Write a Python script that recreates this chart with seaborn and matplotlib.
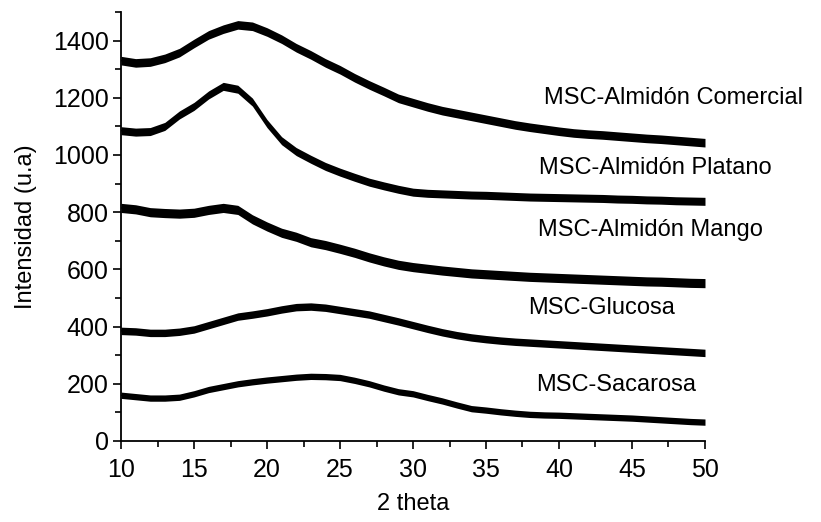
import numpy as np
import pandas as pd
import matplotlib
matplotlib.use("Agg")
import matplotlib.pyplot as plt
import seaborn as sns
from matplotlib.ticker import MultipleLocator

# 2-theta positions (degrees)
two_theta = list(range(10, 51))

comercial = [1330, 1322, 1325, 1338, 1358, 1390, 1420, 1440, 1455, 1450,
             1430, 1405, 1375, 1350, 1322, 1298, 1270, 1245, 1222, 1198,
             1183, 1168, 1155, 1145, 1135, 1125, 1115, 1105, 1097, 1090,
             1083, 1077, 1073, 1070, 1066, 1062, 1058, 1055, 1051, 1047, 1043]
platano = [1085, 1080, 1082, 1100, 1140, 1170, 1210, 1240, 1230, 1185,
           1110, 1050, 1012, 985, 960, 940, 922, 905, 892, 880,
           870, 866, 864, 862, 860, 859, 857, 855, 853, 852,
           851, 850, 849, 848, 846, 845, 843, 842, 840, 839, 838]
mango = [815, 810, 800, 797, 795, 798, 808, 815, 808, 775,
         750, 728, 714, 695, 685, 672, 658, 642, 628, 616,
         608, 602, 596, 591, 586, 583, 580, 577, 574, 572,
         570, 568, 566, 564, 562, 560, 558, 557, 555, 553, 552]
glucosa = [385, 383, 378, 378, 382, 390, 405, 420, 435, 442,
           450, 460, 468, 470, 466, 458, 450, 442, 430, 418,
           405, 392, 380, 370, 362, 356, 351, 347, 344, 341,
           338, 335, 332, 329, 326, 323, 320, 317, 314, 311, 308]
sacarosa = [160, 155, 150, 150, 153, 165, 180, 190, 200, 207,
            213, 218, 223, 226, 225, 222, 212, 200, 185, 172,
            165, 152, 140, 126, 113, 108, 102, 97, 93, 91,
            90, 88, 86, 84, 82, 80, 77, 74, 71, 68, 66]

series_names = ["MSC-Almidón Comercial", "MSC-Almidón Platano",
                "MSC-Almidón Mango", "MSC-Glucosa", "MSC-Sacarosa"]
series_values = [comercial, platano, mango, glucosa, sacarosa]
# approximate half-width of the noise band
noise_halfwidth = [15, 14, 16, 13, 11]

label_x = [39.0, 38.6, 38.55, 37.9, 38.4]
label_y = [1200, 955, 738, 465, 196]

sns.set_theme(style="ticks")
plt.rcParams['font.family'] = ['Liberation Sans', 'DejaVu Sans']

fig = plt.figure(figsize=(8.21, 5.22), dpi=100)
ax = fig.add_axes([0.1474, 0.1552, 0.7113, 0.8218])

rows = []
for name, vals in zip(series_names, series_values):
    for t, v in zip(two_theta, vals):
        rows.append({"two_theta": t, "intensity": v, "sample": name})
df = pd.DataFrame(rows)

for name, hw in zip(series_names, noise_halfwidth):
    sub = df[df["sample"] == name]
    ax.fill_between(sub["two_theta"], sub["intensity"] - hw, sub["intensity"] + hw,
                    color="black", linewidth=0)
    sns.lineplot(data=sub, x="two_theta", y="intensity", color="black",
                 linewidth=1.0, ax=ax, legend=False)

for name, lx, ly in zip(series_names, label_x, label_y):
    ax.text(lx, ly, name, fontsize=17, ha="left", va="center", color="black")

ax.set_xlim(10, 50)
ax.set_ylim(0, 1500)
ax.xaxis.set_major_locator(MultipleLocator(5))
ax.xaxis.set_minor_locator(MultipleLocator(2.5))
ax.yaxis.set_major_locator(MultipleLocator(200))
ax.yaxis.set_minor_locator(MultipleLocator(100))
ax.set_yticks([0, 200, 400, 600, 800, 1000, 1200, 1400])
ax.tick_params(axis="both", which="major", direction="out", length=6, width=1.2,
               labelsize=18, colors="black")
ax.tick_params(axis="x", which="major", pad=6)
ax.tick_params(axis="y", which="major", pad=3)
ax.tick_params(axis="both", which="minor", direction="out", length=4, width=1.2,
               colors="black")
for s in ["top", "right"]:
    ax.spines[s].set_visible(False)
for s in ["left", "bottom"]:
    ax.spines[s].set_linewidth(1.3)
    ax.spines[s].set_color("black")

ax.set_xlabel("2 theta", fontsize=17, labelpad=8, color="black")
ax.set_ylabel("Intensidad (u.a)", fontsize=17, labelpad=11, color="black")

fig.savefig("out.png", dpi=100)
